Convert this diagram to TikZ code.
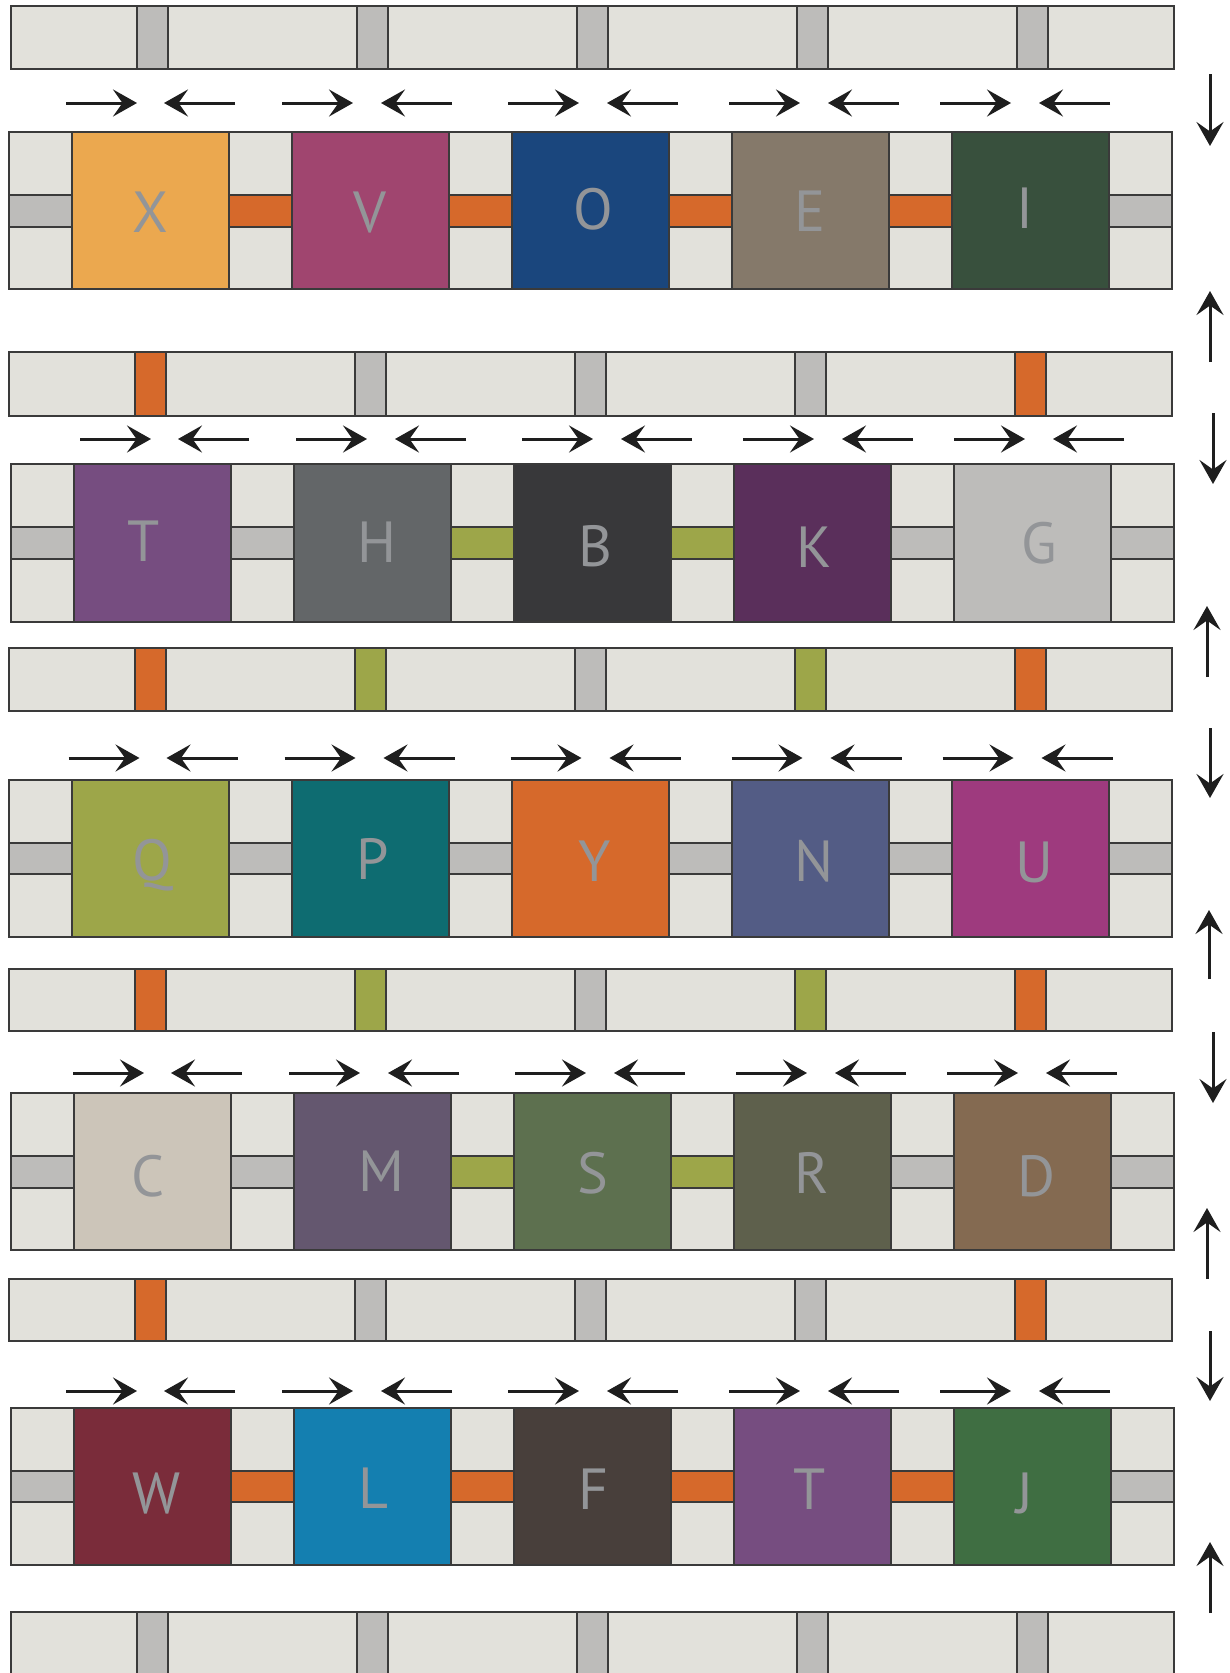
\documentclass[tikz,border=0pt]{standalone}
\usepackage{fontspec}
\setmainfont{PT Sans}
\usetikzlibrary{arrows.meta}
\definecolor{sidec}{HTML}{E2E1DB}
\definecolor{grayc}{HTML}{BDBCBA}
\definecolor{orangec}{HTML}{D6692B}
\definecolor{greenc}{HTML}{9DA649}
\definecolor{strokec}{HTML}{3A3A3A}
\definecolor{arrc}{HTML}{1E1E1E}
\definecolor{letc}{HTML}{939598}
\definecolor{bX}{HTML}{EBA84F}
\definecolor{bV}{HTML}{A0456F}
\definecolor{bO}{HTML}{1A467D}
\definecolor{bE}{HTML}{85796A}
\definecolor{bI}{HTML}{38503D}
\definecolor{bT}{HTML}{764D80}
\definecolor{bH}{HTML}{636668}
\definecolor{bB}{HTML}{38383A}
\definecolor{bK}{HTML}{5A2F5B}
\definecolor{bG}{HTML}{BDBCBA}
\definecolor{bQ}{HTML}{9DA649}
\definecolor{bP}{HTML}{0E6C71}
\definecolor{bY}{HTML}{D6692B}
\definecolor{bN}{HTML}{535C85}
\definecolor{bU}{HTML}{9E3A7E}
\definecolor{bC}{HTML}{CCC5B9}
\definecolor{bM}{HTML}{64576F}
\definecolor{bS}{HTML}{5D704F}
\definecolor{bR}{HTML}{5E604C}
\definecolor{bD}{HTML}{846A51}
\definecolor{bW}{HTML}{7A2C3A}
\definecolor{bL}{HTML}{147FB0}
\definecolor{bF}{HTML}{483F3B}
\definecolor{bJ}{HTML}{3F6E42}

% sashing strip: x0, ytop, ybot, cornerstone colours (5)
\newcommand{\qstrip}[4]{%
  \draw[outl, fill=sidec] (#1,#2) rectangle (#1+1163,#3);
  \foreach \c [count=\i from 0] in {#4} {
    \draw[outl, fill=\c] (#1+126+220*\i,#2) rectangle (#1+157+220*\i,#3);
  }
}
% side pieces of a block row: x0, ytop, bartop, barbot, ybot, bar colours (6)
\newcommand{\qsides}[6]{%
  \foreach \c [count=\i from 0] in {#6} {
    \draw[outl, fill=sidec] (#1+220*\i,#2) rectangle (#1+63+220*\i,#3);
    \draw[outl, fill=\c] (#1+220*\i,#3) rectangle (#1+63+220*\i,#4);
    \draw[outl, fill=sidec] (#1+220*\i,#4) rectangle (#1+63+220*\i,#5);
  }
}
% blocks: row id, x0, ytop, ybot, list colour/letter/x/baseline
\newcommand{\qblocks}[5]{%
  \foreach \col/\lab/\cx/\bl [count=\i from 0] in {#5} {
    \draw[outl, fill=\col] (#2+63+220*\i,#3) rectangle (#2+220+220*\i,#4);
    \node[lett] (r#1b\i) at (\cx,\bl) {\lab};
  }
}
% pairs of horizontal arrows: offset, y
\newcommand{\qarrows}[2]{%
  \foreach \a in {66,282,508,729,940} {
    \draw[arr] (\a+#1,#2) -- (\a+#1+71,#2);
  }
  \foreach \a in {164,381,607,828,1039} {
    \draw[arr] (\a+#1+71,#2) -- (\a+#1,#2);
  }
}

\begin{document}
\begin{tikzpicture}[x=1pt,y=-1pt,
  outl/.style={draw=strokec, line width=1.1pt},
  arr/.style={draw=arrc, line width=3pt, -{Stealth[length=24pt,width=27pt,inset=9.5pt]}},
  lett/.style={anchor=base, text=letc, inner sep=0pt, font=\fontsize{58}{60}\selectfont}]
\clip (0,0) rectangle (1229,1673);
\fill[white] (0,0) rectangle (1229,1673);

% sashing strips
\qstrip{11}{6}{69}{grayc,grayc,grayc,grayc,grayc}
\qstrip{9}{352}{416}{orangec,grayc,grayc,grayc,orangec}
\qstrip{9}{648}{711}{orangec,greenc,grayc,greenc,orangec}
\qstrip{9}{969}{1031}{orangec,greenc,grayc,greenc,orangec}
\qstrip{9}{1279}{1341}{orangec,grayc,grayc,grayc,orangec}
\qstrip{11}{1612}{1700}{grayc,grayc,grayc,grayc,grayc}

% row 1
\qsides{9}{132}{195}{227}{289}{grayc,orangec,orangec,orangec,orangec,grayc}
\qblocks{1}{9}{132}{289}{bX/X/150.5/232, bV/V/370/232, bO/O/593/229, bE/E/810/231, bI/I/1025/228}
% row 2
\qsides{11}{464}{527}{559}{622}{grayc,grayc,greenc,greenc,grayc,grayc}
\qblocks{2}{11}{464}{622}{bT/T/144/561, bH/H/377/562, bB/B/595/566, bK/K/814/567, bG/G/1039/563}
% row 3
\qsides{9}{780}{843}{874}{937}{grayc,grayc,grayc,grayc,grayc,grayc}
\qblocks{3}{9}{780}{937}{bQ/Q/152/880, bP/P/373/879, bY/Y/595/881, bN/N/814/881, bU/U/1034/882}
% row 4
\qsides{11}{1093}{1156}{1188}{1250}{grayc,grayc,greenc,greenc,grayc,grayc}
\qblocks{4}{11}{1093}{1250}{bC/C/148/1196, bM/M/381/1191, bS/S/593/1193, bR/R/812/1193, bD/D/1036/1196}
% row 5
\qsides{11}{1408}{1471}{1502}{1565}{grayc,orangec,orangec,orangec,orangec,grayc}
\qblocks{5}{11}{1408}{1565}{bW/W/157/1513, bL/L/373/1508, bF/F/593/1509, bT/T/810/1509, bJ/J/1025/1513}

% horizontal arrows
\qarrows{0}{103}
\qarrows{14}{439}
\qarrows{2.5}{758}
\qarrows{7}{1073}
\qarrows{0}{1391}

% vertical arrows
\foreach \x/\a/\b in {1210/74/146, 1210/362/291, 1213/413/484, 1207/677/606,
  1210/728/798, 1209/979/910, 1213/1032/1103, 1207/1279/1208,
  1210/1331/1401, 1210/1613/1542} {
  \draw[arr] (\x,\a) -- (\x,\b);
}
\end{tikzpicture}
\end{document}
